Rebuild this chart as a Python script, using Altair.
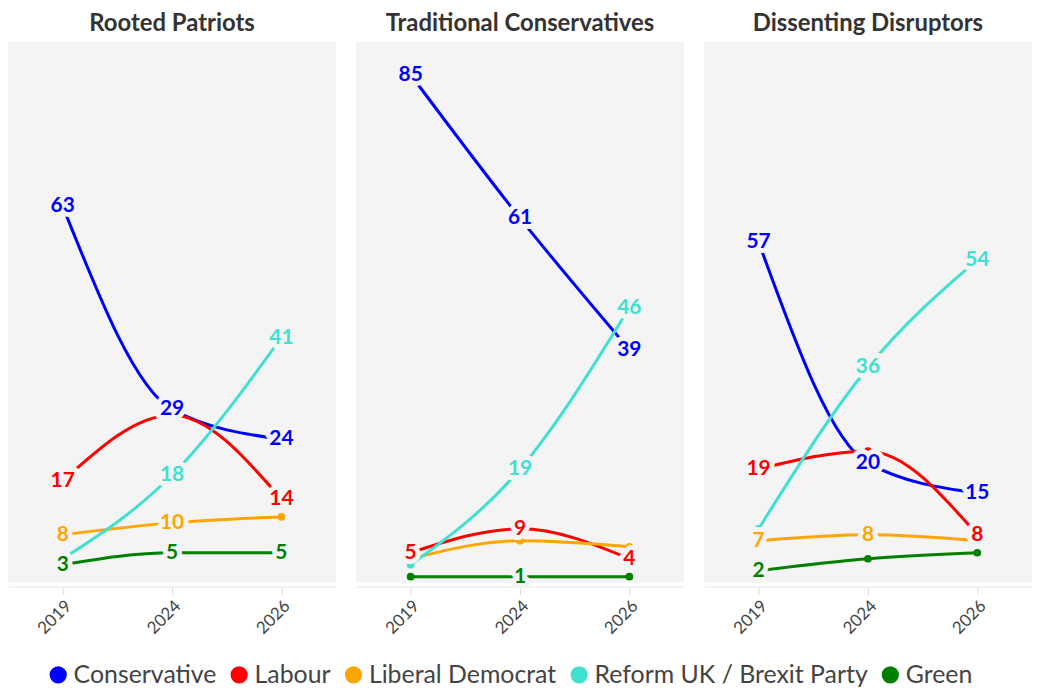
import altair as alt
import pandas as pd

segments = ["Rooted Patriots", "Traditional Conservatives", "Dissenting Disruptors"]
years = ["2019", "2024", "2026"]
parties = ["Conservative", "Labour", "Liberal Democrat", "Reform UK / Brexit Party", "Green"]
colors = ["#0000ff", "#ff0000", "#ffa500", "#40e0d0", "#008000"]

# values per segment and party: [2019, 2024, 2026]
rp_con = [63, 29, 24]
rp_lab = [17, 28, 14]
rp_ld = [8, 10, 11]
rp_ref = [4, 18, 41]
rp_grn = [3, 5, 5]

tc_con = [85, 61, 39]
tc_lab = [5, 9, 4]
tc_ld = [4, 7, 6]
tc_ref = [3, 19, 46]
tc_grn = [1, 1, 1]

dd_con = [57, 20, 15]
dd_lab = [19, 22, 8]
dd_ld = [7, 8, 7]
dd_ref = [9, 36, 54]
dd_grn = [2, 4, 5]

# which point labels are shown (1 = shown)
rp_show = [[1, 1, 1], [1, 0, 1], [1, 1, 0], [0, 1, 1], [1, 1, 1]]
tc_show = [[1, 1, 1], [1, 1, 1], [0, 0, 0], [0, 1, 1], [0, 1, 0]]
dd_show = [[1, 1, 1], [1, 0, 1], [1, 1, 0], [0, 1, 1], [1, 0, 0]]

series = {
    "Rooted Patriots": ([rp_con, rp_lab, rp_ld, rp_ref, rp_grn], rp_show),
    "Traditional Conservatives": ([tc_con, tc_lab, tc_ld, tc_ref, tc_grn], tc_show),
    "Dissenting Disruptors": ([dd_con, dd_lab, dd_ld, dd_ref, dd_grn], dd_show),
}

rows = []
for seg in segments:
    vals, show = series[seg]
    for pi, party in enumerate(parties):
        for yi, yr in enumerate(years):
            v = vals[pi][yi]
            rows.append({
                "segment": seg, "party": party, "year": yr, "value": v,
                "label": str(v) if show[pi][yi] else "",
            })
df = pd.DataFrame(rows)

FONT = "Lato"
BG = "#f4f4f4"

x = alt.X("year:O", sort=years, scale=alt.Scale(padding=0.5),
          axis=alt.Axis(title=None, labelAngle=-45, labelFontSize=17, labelColor="#444",
                        labelFont=FONT, tickColor="#dddddd", tickSize=8,
                        domainColor="#e8e8e8", grid=False, labelPadding=3))
y = alt.Y("value:Q", scale=alt.Scale(domain=[0, 90.5], nice=False, zero=True), axis=None)
cscale = alt.Scale(domain=parties, range=colors)
legend = alt.Legend(title=None, orient="none", legendX=38, legendY=624,
                    direction="horizontal", symbolType="circle", symbolSize=300,
                    labelFontSize=25, labelColor="#444", labelFont=FONT, labelLimit=0,
                    columnPadding=10, labelOffset=3, symbolStrokeWidth=0,
                    symbolOpacity=1, padding=0)
color = alt.Color("party:N", scale=cscale, sort=parties, legend=legend)

base = alt.Chart(df).encode(x=x, y=y)

lines = base.mark_line(interpolate="monotone", strokeWidth=3).encode(color=color)
points = base.mark_point(filled=True, size=60, opacity=1).encode(color=color).transform_filter(
    "datum.label == ''"
)
halo = base.mark_text(fontSize=21, fontWeight="bold", font=FONT, fill=BG, stroke=BG,
                      strokeWidth=10, strokeJoin="round", baseline="middle", align="center").encode(
    text="label:N",
)
texts = base.mark_text(fontSize=21, fontWeight="bold", font=FONT, baseline="middle",
                       align="center").encode(text="label:N", color=color)

layered = alt.layer(lines, points, halo, texts).properties(width=330, height=544)

chart = layered.facet(
    column=alt.Column("segment:N", sort=segments, title=None,
                      header=alt.Header(labelFontSize=24, labelFontWeight="bold",
                                        labelColor="#333", labelFont=FONT, labelPadding=6)),
    spacing=20,
).properties(padding={"top": 2, "left": 0, "right": 0, "bottom": 0}).configure(
    font=FONT
).configure_view(fill=BG, strokeWidth=0).configure_legend(
    symbolType="circle", symbolFillColor="#000000"
)

chart.save("out.html", embed_options={"renderer": "svg", "actions": False})
